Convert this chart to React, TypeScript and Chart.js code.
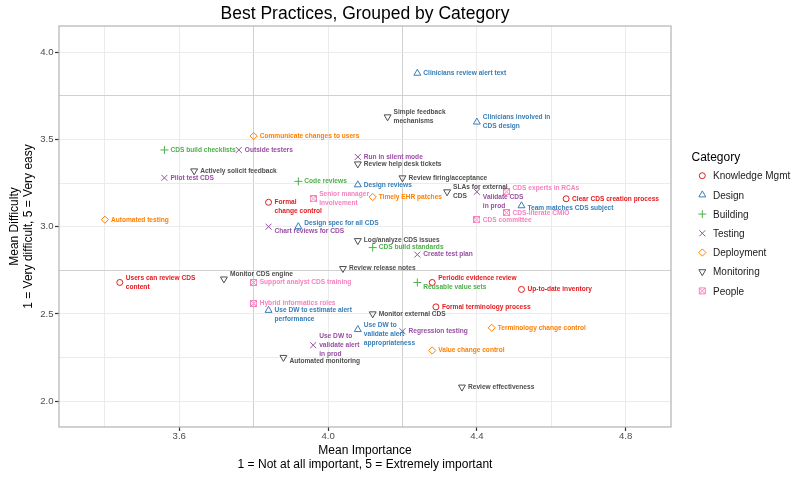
import React, { useEffect, useRef } from 'react';
import { Chart, registerables } from 'chart.js';

Chart.register(...registerables);

const FONT = "'Liberation Sans', Arial, Helvetica, sans-serif";

const chartTitle = 'Best Practices, Grouped by Category';
const xTitleLines = ['Mean Importance', '1 = Not at all important, 5 = Extremely important'];
const yTitleLines = ['Mean Difficulty', '1 = Very difficult, 5 = Very easy'];
const legendTitle = 'Category';

const categories = ['Knowledge Mgmt', 'Design', 'Building', 'Testing', 'Deployment', 'Monitoring', 'People'];

const xMajorTicks = [3.6, 4.0, 4.4, 4.8];
const xMinorTicks = [3.4, 3.8, 4.2, 4.6];
const yMajorTicks = [2.0, 2.5, 3.0, 3.5, 4.0];
const yMinorTicks = [2.25, 2.75, 3.25, 3.75];
const xRefLines = [3.8, 4.2];
const yRefLines = [2.75, 3.75];

const practiceLabels = [
  'Communicate changes to users',
  'CDS build checklists',
  'Outside testers',
  'Clinicians review alert text',
  'Simple feedback\nmechanisms',
  'Clinicians involved in\nCDS design',
  'Run in silent mode',
  'Review help desk tickets',
  'Actively solicit feedback',
  'Pilot test CDS',
  'Code reviews',
  'Senior manager\ninvolvement',
  'Formal\nchange control',
  'Automated testing',
  'Chart reviews for CDS',
  'Design spec for all CDS',
  'Log/analyze CDS issues',
  'Review firing/acceptance',
  'Design reviews',
  'Timely EHR patches',
  'SLAs for external\nCDS',
  'Validate CDS\nin prod',
  'CDS experts in RCAs',
  'Clear CDS creation process',
  'Team matches CDS subject',
  'CDS-literate CMIO',
  'CDS committee',
  'CDS build standards',
  'Create test plan',
  'Review release notes',
  'Users can review CDS\ncontent',
  'Monitor CDS engine',
  'Support analyst CDS training',
  'Hybrid informatics roles',
  'Use DW to estimate alert\nperformance',
  'Use DW to\nvalidate alert\nin prod',
  'Automated monitoring',
  'Periodic evidence review',
  'Reusable value sets',
  'Up-to-date inventory',
  'Formal terminology process',
  'Monitor external CDS',
  'Terminology change control',
  'Use DW to\nvalidate alert\nappropriateness',
  'Regression testing',
  'Value change control',
  'Review effectiveness',
];

const practiceCategory = [
  'Deployment', 'Building', 'Testing', 'Design', 'Monitoring', 'Design', 'Testing', 'Monitoring',
  'Monitoring', 'Testing', 'Building', 'People', 'Knowledge Mgmt', 'Deployment', 'Testing', 'Design',
  'Monitoring', 'Monitoring', 'Design', 'Deployment', 'Monitoring', 'Testing', 'People', 'Knowledge Mgmt',
  'Design', 'People', 'People', 'Building', 'Testing', 'Monitoring', 'Knowledge Mgmt', 'Monitoring',
  'People', 'People', 'Design', 'Testing', 'Monitoring', 'Knowledge Mgmt', 'Building', 'Knowledge Mgmt',
  'Knowledge Mgmt', 'Monitoring', 'Deployment', 'Design', 'Testing', 'Deployment', 'Monitoring',
];

const meanImportance = [
  3.80, 3.56, 3.76, 4.24, 4.16, 4.40, 4.08, 4.08,
  3.64, 3.56, 3.92, 3.96, 3.84, 3.40, 3.84, 3.92,
  4.08, 4.20, 4.08, 4.12, 4.32, 4.40, 4.48, 4.64,
  4.52, 4.48, 4.40, 4.12, 4.24, 4.04, 3.44, 3.72,
  3.80, 3.80, 3.84, 3.96, 3.88, 4.28, 4.24, 4.52,
  4.29, 4.12, 4.44, 4.08, 4.20, 4.28, 4.36,
];

const meanDifficulty = [
  3.52, 3.44, 3.44, 3.88, 3.63, 3.60, 3.40, 3.36,
  3.32, 3.28, 3.26, 3.16, 3.14, 3.04, 3.00, 3.00,
  2.92, 3.28, 3.24, 3.17, 3.20, 3.20, 3.20, 3.16,
  3.12, 3.08, 3.04, 2.88, 2.84, 2.76, 2.68, 2.70,
  2.68, 2.56, 2.52, 2.32, 2.25, 2.68, 2.68, 2.64,
  2.54, 2.50, 2.42, 2.41, 2.40, 2.29, 2.08,
];

// ---- styling (not data) ----
const categoryColor: Record<string, string> = {
  'Knowledge Mgmt': '#E41A1C',
  Design: '#377EB8',
  Building: '#4DAF4A',
  Testing: '#984EA3',
  Deployment: '#FF7F00',
  Monitoring: '#4f4f4f',
  People: '#F781BF',
};
const categoryShape: Record<string, string> = {
  'Knowledge Mgmt': 'circle',
  Design: 'triangle',
  Building: 'cross',
  Testing: 'crossRot',
  Deployment: 'rectRot',
  Monitoring: 'triangleDown',
  People: 'squareCross',
};
const shapeRadius: Record<string, number> = {
  circle: 3,
  triangle: 4,
  cross: 4,
  crossRot: 4.2,
  rectRot: 3.6,
  triangleDown: 4,
  squareCross: 3.5,
};
// vertical label nudges (px) where the repelled label sits off-centre
const labelNudgeY: Record<string, number> = {
  'Formal\nchange control': 4.6,
  'Chart reviews for CDS': 4.5,
  'Design spec for all CDS': -4,
  'Validate CDS\nin prod': 9.5,
  'CDS experts in RCAs': -3.4,
  'Team matches CDS subject': 2,
  'Monitor CDS engine': -5,
  'Use DW to estimate alert\nperformance': 4.7,
  'Automated monitoring': 3.7,
  'Periodic evidence review': -4.6,
  'Reusable value sets': 4.4,
  'Use DW to\nvalidate alert\nappropriateness': 5,
};

const near = (a: number, b: number) => Math.abs(a - b) < 1e-6;
const inList = (v: number, list: number[]) => list.some((t) => near(t, v));

function makeSquareCross(color: string): HTMLCanvasElement {
  const c = document.createElement('canvas');
  c.width = 7;
  c.height = 7;
  const g = c.getContext('2d')!;
  g.strokeStyle = color;
  g.lineWidth = 1;
  g.strokeRect(0.5, 0.5, 6, 6);
  g.beginPath();
  g.moveTo(0.5, 0.5);
  g.lineTo(6.5, 6.5);
  g.moveTo(6.5, 0.5);
  g.lineTo(0.5, 6.5);
  g.stroke();
  return c;
}

function drawShape(ctx: CanvasRenderingContext2D, shape: string, x: number, y: number, color: string) {
  const r = shapeRadius[shape];
  ctx.save();
  ctx.strokeStyle = color;
  ctx.lineWidth = 1;
  ctx.beginPath();
  if (shape === 'circle') {
    ctx.arc(x, y, r, 0, Math.PI * 2);
  } else if (shape === 'triangle' || shape === 'triangleDown') {
    const s = shape === 'triangle' ? 1 : -1;
    for (let k = 0; k < 3; k++) {
      const a = (k * 2 * Math.PI) / 3;
      const px = x + Math.sin(a) * r * s;
      const py = y - Math.cos(a) * r * s;
      if (k === 0) ctx.moveTo(px, py);
      else ctx.lineTo(px, py);
    }
    ctx.closePath();
  } else if (shape === 'cross') {
    ctx.moveTo(x - r, y);
    ctx.lineTo(x + r, y);
    ctx.moveTo(x, y - r);
    ctx.lineTo(x, y + r);
  } else if (shape === 'crossRot') {
    const d = r * Math.SQRT1_2;
    ctx.moveTo(x - d, y - d);
    ctx.lineTo(x + d, y + d);
    ctx.moveTo(x + d, y - d);
    ctx.lineTo(x - d, y + d);
  } else if (shape === 'rectRot') {
    ctx.moveTo(x - r, y);
    ctx.lineTo(x, y - r);
    ctx.lineTo(x + r, y);
    ctx.lineTo(x, y + r);
    ctx.closePath();
  } else if (shape === 'squareCross') {
    const h = 3;
    ctx.rect(x - h, y - h, 2 * h, 2 * h);
    ctx.moveTo(x - h, y - h);
    ctx.lineTo(x + h, y + h);
    ctx.moveTo(x + h, y - h);
    ctx.lineTo(x - h, y + h);
  }
  ctx.stroke();
  ctx.restore();
}

const pointLabelPlugin = {
  id: 'pointLabelPlugin',
  afterDatasetsDraw(chart: any) {
    const ctx: CanvasRenderingContext2D = chart.ctx;
    ctx.save();
    ctx.font = `bold 6.6px ${FONT}`;
    ctx.textAlign = 'left';
    ctx.textBaseline = 'middle';
    chart.data.datasets.forEach((ds: any, di: number) => {
      const meta = chart.getDatasetMeta(di);
      ctx.fillStyle = ds.labelColor;
      meta.data.forEach((el: any, i: number) => {
        const text: string = ds.pointLabels[i];
        const lines = text.split('\n');
        const lh = 9;
        const dy = labelNudgeY[text] || 0;
        const y0 = el.y + dy - ((lines.length - 1) * lh) / 2;
        lines.forEach((ln, k) => ctx.fillText(ln, el.x + 6, y0 + k * lh));
      });
    });
    ctx.restore();
  },
};

const decorPlugin = {
  id: 'decorPlugin',
  beforeDatasetsDraw(chart: any) {
    const { ctx, chartArea: a } = chart;
    ctx.save();
    ctx.strokeStyle = '#b3b3b3';
    ctx.lineWidth = 1.2;
    ctx.strokeRect(a.left, a.top, a.right - a.left, a.bottom - a.top);
    ctx.restore();
  },
  afterDraw(chart: any) {
    const { ctx, chartArea: a } = chart;
    const cx = (a.left + a.right) / 2;
    const cy = (a.top + a.bottom) / 2;
    ctx.save();
    ctx.fillStyle = '#000';
    ctx.textBaseline = 'alphabetic';
    ctx.textAlign = 'center';
    ctx.font = `17.5px ${FONT}`;
    ctx.fillText(chartTitle, cx, 18.5);

    ctx.font = `12px ${FONT}`;
    ctx.fillText(xTitleLines[0], cx, 454);
    ctx.fillText(xTitleLines[1], cx, 468);

    ctx.save();
    ctx.translate(0, cy);
    ctx.rotate(-Math.PI / 2);
    ctx.fillText(yTitleLines[0], 0, 17.5);
    ctx.fillText(yTitleLines[1], 0, 31.5);
    ctx.restore();

    // legend
    ctx.textAlign = 'left';
    ctx.font = `12px ${FONT}`;
    ctx.fillText(legendTitle, 691.5, 161);
    ctx.font = `10px ${FONT}`;
    categories.forEach((cat, k) => {
      const my = 175.7 + k * 19.2;
      drawShape(ctx, categoryShape[cat], 702.3, my, categoryColor[cat]);
      ctx.fillStyle = '#1a1a1a';
      ctx.fillText(cat, 713, my + 3.6);
    });
    ctx.restore();
  },
};

export default function App() {
  const canvasRef = useRef<HTMLCanvasElement>(null);

  useEffect(() => {
    const canvas = canvasRef.current;
    if (!canvas) return;

    const datasets = categories.map((cat) => {
      const idx = practiceLabels.map((_, i) => i).filter((i) => practiceCategory[i] === cat);
      const shape = categoryShape[cat];
      const color = categoryColor[cat];
      const pointStyle: any =
        shape === 'squareCross' ? makeSquareCross(color) : shape === 'triangleDown' ? 'triangle' : shape;
      return {
        label: cat,
        data: idx.map((i) => ({ x: meanImportance[i], y: meanDifficulty[i] })),
        pointLabels: idx.map((i) => practiceLabels[i]),
        labelColor: color,
        pointStyle,
        pointRotation: shape === 'triangleDown' ? 180 : 0,
        pointRadius: shapeRadius[shape],
        borderColor: color,
        backgroundColor: 'rgba(0,0,0,0)',
        borderWidth: 1,
        showLine: false,
      };
    });

    const gridColor = (refs: number[]) => (c: any) =>
      c.tick && inList(c.tick.value, refs) ? '#d0d0d0' : '#ebebeb';

    const chart = new Chart(canvas, {
      type: 'scatter',
      data: { datasets } as any,
      plugins: [decorPlugin, pointLabelPlugin],
      options: {
        responsive: false,
        animation: false,
        events: [],
        layout: { padding: { top: 26, right: 129, left: 0, bottom: 0 } },
        plugins: {
          legend: { display: false },
          tooltip: { enabled: false },
          title: { display: false },
        },
        scales: {
          x: {
            type: 'linear',
            min: 3.2766,
            max: 4.922,
            afterBuildTicks: (s: any) => {
              s.ticks = [...xMinorTicks, ...xMajorTicks].sort((p, q) => p - q).map((v) => ({ value: v }));
            },
            afterFit: (s: any) => {
              s.height = 53;
              s.paddingLeft = 0;
              s.paddingRight = 0;
            },
            border: { display: false },
            grid: {
              color: gridColor(xRefLines),
              lineWidth: 1,
              tickLength: 4,
              tickWidth: 1.2,
              tickColor: (c: any) => (c.tick && inList(c.tick.value, xMajorTicks) ? '#333333' : 'rgba(0,0,0,0)'),
            },
            ticks: {
              autoSkip: false,
              maxRotation: 0,
              padding: 0,
              color: '#4d4d4d',
              font: { family: FONT, size: 9.6 },
              callback: (v: any) => (inList(Number(v), xMajorTicks) ? Number(v).toFixed(1) : ''),
            },
          },
          y: {
            type: 'linear',
            min: 1.851,
            max: 4.151,
            afterBuildTicks: (s: any) => {
              s.ticks = [...yMinorTicks, ...yMajorTicks].sort((p, q) => p - q).map((v) => ({ value: v }));
            },
            afterFit: (s: any) => {
              s.width = 59;
              s.paddingTop = 0;
              s.paddingBottom = 0;
            },
            border: { display: false },
            grid: {
              color: gridColor(yRefLines),
              lineWidth: 1,
              tickLength: 4,
              tickWidth: 1.2,
              tickColor: (c: any) => (c.tick && inList(c.tick.value, yMajorTicks) ? '#333333' : 'rgba(0,0,0,0)'),
            },
            ticks: {
              autoSkip: false,
              padding: 1.5,
              color: '#4d4d4d',
              font: { family: FONT, size: 9.6 },
              callback: (v: any) => (inList(Number(v), yMajorTicks) ? Number(v).toFixed(1) : ''),
            },
          },
        },
      } as any,
    });

    return () => chart.destroy();
  }, []);

  return (
    <div style={{ position: 'fixed', left: 0, top: 0, width: 800, height: 480, background: '#ffffff' }}>
      <canvas ref={canvasRef} width={800} height={480} style={{ display: 'block', width: 800, height: 480 }} />
    </div>
  );
}
